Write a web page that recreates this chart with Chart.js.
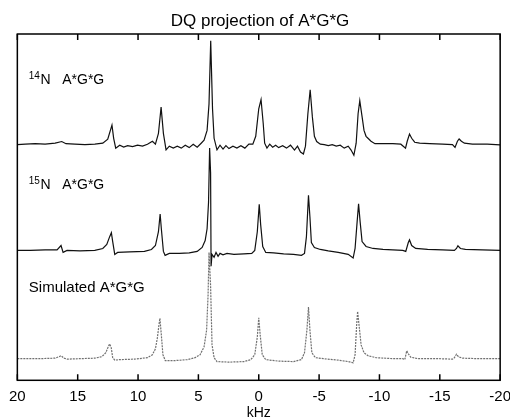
<!DOCTYPE html>
<html>
<head>
<meta charset="utf-8">
<script src="https://cdn.jsdelivr.net/npm/chart.js@4.4.1/dist/chart.umd.min.js"></script>
<style>
  html, body { margin: 0; padding: 0; background: #fff; overflow: hidden; }
  #wrap { width: 510px; height: 418px; overflow: hidden; }
</style>
</head>
<body>
<div id="wrap"><canvas id="dq" width="520" height="418"></canvas></div>
<script>
// eje x en kHz (invertido, 20 -> -20)
const kHzTicks = [20, 15, 10, 5, 0, -5, -10, -15, -20];

// 14N A*G*G (espectro experimental)
const n14Khz = [20.0, 19.34, 18.52, 17.70, 16.87, 16.32, 15.97, 15.23, 14.40, 13.58,
  12.92, 12.51, 12.16, 12.02, 11.85, 11.52, 11.19, 10.86, 10.45, 10.04,
  9.63, 9.22, 8.81, 8.56, 8.31, 8.09, 7.90, 7.68, 7.41, 7.08,
  6.75, 6.42, 6.09, 5.76, 5.43, 5.10, 4.77, 4.53, 4.28, 4.12,
  3.98, 3.83, 3.70, 3.46, 3.21, 2.96, 2.72, 2.47, 2.14, 1.81,
  1.48, 1.15, 0.82, 0.49, 0.25, 0, -0.19, -0.37, -0.49, -0.68,
  -0.91, -1.15, -1.40, -1.65, -1.98, -2.30, -2.63, -2.96, -3.21, -3.46,
  -3.70, -3.87, -4.07, -4.26, -4.44, -4.61, -4.80, -5.10, -5.43, -5.76,
  -6.09, -6.42, -6.75, -7.08, -7.41, -7.65, -7.88, -8.07, -8.23, -8.37,
  -8.56, -8.72, -8.89, -9.05, -9.30, -9.63, -10.29, -11.11, -11.77, -12.16,
  -12.30, -12.49, -12.67, -12.92, -13.33, -14.16, -15.23, -16.05, -16.26, -16.46,
  -16.60, -16.79, -17.04, -17.70, -18.93, -20.0];
const n14Int = [-0.05, 0, 0.05, 0, 0.1, 0.27, 0.05, 0, -0.05, 0,
  0.1, 0.5, 1.93, 0.6, -0.4, -0.1, -0.3, -0.15, -0.25, -0.1,
  -0.2, 0, 0.3, 0, 1.1, 3.77, 1.1, -0.57, -0.2, -0.4,
  -0.2, -0.4, -0.1, -0.35, 0, -0.3, 0.1, 0.4, 1.4, 4.1,
  10.5, 3.6, 0.6, -0.57, -0.1, -0.5, -0.15, -0.45, -0.2, -0.4,
  -0.15, -0.4, 0, 0, 0.8, 3.6, 4.53, 2.1, 0.1, -0.4,
  0, -0.3, -0.1, -0.35, -0.15, -0.4, -0.1, -0.6, -0.2, -0.8,
  -1.0, -0.2, 3.1, 5.53, 2.8, 0.8, 0.27, 0, -0.05, -0.15,
  -0.05, -0.2, -0.1, -0.4, -0.2, -0.6, -1.13, 0.1, 3.1, 4.43,
  2.8, 1.4, 0.8, 0.6, 0.3, 0.05, 0.05, 0.05, 0, -0.4,
  0.3, 1.03, 0.6, 0.2, 0.1, 0.05, 0, -0.05, -0.33, 0.3,
  0.53, 0.3, 0.1, 0, 0, -0.07];

// 15N A*G*G (espectro experimental)
const n15Khz = [20.0, 18.93, 17.70, 16.71, 16.38, 16.21, 15.88, 14.81, 13.58, 12.92,
  12.59, 12.35, 12.21, 12.10, 11.93, 11.69, 10.70, 9.47, 8.89, 8.56,
  8.31, 8.17, 8.07, 7.90, 7.76, 7.41, 6.58, 5.76, 5.10, 4.69,
  4.44, 4.28, 4.16, 4.07, 3.99, 3.95, 3.87, 3.70, 3.54, 3.37,
  3.21, 2.96, 2.63, 2.06, 1.23, 0.58, 0.33, 0.12, -0.04, -0.16,
  -0.33, -0.58, -1.23, -2.06, -2.88, -3.54, -3.79, -3.95, -4.12, -4.24,
  -4.36, -4.61, -5.10, -5.76, -6.58, -7.41, -7.82, -7.98, -8.15, -8.27,
  -8.40, -8.56, -8.89, -9.47, -10.29, -11.11, -11.93, -12.18, -12.39, -12.49,
  -12.67, -13.00, -13.99, -15.23, -16.21, -16.38, -16.50, -16.71, -17.12, -18.52,
  -20.0];
const n15Int = [0, 0, 0.05, 0.05, 0.5, -0.2, 0, -0.05, 0, 0.2,
  0.6, 1.4, 1.8, 0.9, -0.4, -0.2, -0.15, -0.1, 0.1, 0.5,
  1.9, 3.7, 2.2, -0.1, -0.5, -0.3, -0.3, -0.25, -0.1, 0.3,
  1.0, 2.2, 4.9, 10.4, 7.9, -1.6, -0.4, -0.7, -0.2, -0.6,
  -0.3, -0.45, -0.3, -0.4, -0.35, -0.3, 0, 1.9, 4.7, 2.6,
  0.4, -0.2, -0.25, -0.35, -0.4, -0.5, -0.3, 1.4, 5.6, 3.4,
  0.8, 0.3, 0.1, -0.05, -0.2, -0.4, -0.77, 0.2, 2.9, 4.73,
  2.9, 0.9, 0.4, 0.2, 0.1, 0.05, 0, -0.1, 0.8, 1.07,
  0.5, 0.2, 0.1, 0.05, 0, 0.2, 0.47, 0.2, 0.1, 0.05,
  0];

// A*G*G simulado
const simKhz = [20.0, 18.11, 16.87, 16.54, 16.38, 16.13, 15.88, 14.81, 13.58, 13.00,
  12.67, 12.47, 12.35, 12.22, 12.10, 11.93, 11.52, 10.29, 9.22, 8.81,
  8.56, 8.40, 8.27, 8.19, 8.07, 7.94, 7.74, 7.00, 5.93, 5.27,
  4.86, 4.53, 4.32, 4.20, 4.12, 3.99, 3.87, 3.70, 3.46, 2.47,
  1.23, 0.66, 0.33, 0.12, 0, -0.12, -0.29, -0.58, -1.65, -2.88,
  -3.54, -3.79, -3.99, -4.12, -4.24, -4.40, -4.69, -5.35, -6.58, -7.41,
  -7.82, -7.98, -8.11, -8.19, -8.31, -8.48, -8.72, -9.05, -9.71, -11.11,
  -11.93, -12.10, -12.26, -12.39, -12.59, -13.17, -14.81, -16.05, -16.21, -16.38,
  -16.54, -16.87, -18.11, -20.0];
const simInt = [0, 0, 0.05, 0.2, 0.3, 0.05, -0.05, 0, 0.05, 0.2,
  0.6, 1.2, 1.5, 1.1, 0.1, -0.15, -0.1, -0.05, 0.1, 0.4,
  1.0, 2.1, 3.4, 4.1, 2.4, 0.4, -0.2, -0.2, -0.1, 0.1,
  0.4, 1.2, 2.9, 6.4, 10.8, 7.4, 1.4, 0.1, -0.3, -0.35,
  -0.3, -0.1, 0.4, 2.2, 4.15, 2.4, 0.4, -0.1, -0.25, -0.3,
  -0.1, 0.6, 2.9, 5.25, 2.9, 0.6, 0.1, 0, -0.15, -0.3,
  -0.43, 0.4, 3.4, 4.8, 3.4, 1.4, 0.6, 0.3, 0.1, 0,
  0, -0.1, 0.8, 0.5, 0.15, 0, 0, -0.05, 0.1, 0.45,
  0.2, 0.05, 0, 0];

// desplazamiento vertical de cada espectro (apilados)
const stackOffsets = [24.0, 13.2, 2.2];
const traceSup = ['14', '15', ''];
const traceNames = ['N   A*G*G', 'N   A*G*G', 'Simulated A*G*G'];

function toPoints(khz, vals, off) {
    return khz.map((k, i) => ({ x: k, y: vals[i] + off }));
}

// marco con ticks hacia dentro + etiquetas de cada espectro
const framePlugin = {
    id: 'framePlugin',
    afterDraw(chart) {
        const { ctx, chartArea: a, scales: { x, y } } = chart;
        ctx.save();
        ctx.strokeStyle = '#000';
        ctx.lineWidth = 1.5;
        ctx.strokeRect(a.left, a.top, a.right - a.left, a.bottom - a.top);
        x.ticks.forEach(t => {
            const px = x.getPixelForValue(t.value);
            ctx.beginPath();
            ctx.moveTo(px, a.top);
            ctx.lineTo(px, a.top + 6);
            ctx.moveTo(px, a.bottom);
            ctx.lineTo(px, a.bottom - 6);
            ctx.stroke();
        });

        const labelY = [30.1, 19.4, 9.0];
        ctx.fillStyle = '#000';
        ctx.textBaseline = 'alphabetic';
        traceNames.forEach((name, i) => {
            let px = x.getPixelForValue(19.05);
            const py = y.getPixelForValue(labelY[i]);
            if (traceSup[i]) {
                ctx.font = '10px "Liberation Sans", Arial, sans-serif';
                ctx.fillText(traceSup[i], px, py - 5);
                px += ctx.measureText(traceSup[i]).width + 0.5;
                ctx.font = '14px "Liberation Sans", Arial, sans-serif';
            } else {
                ctx.font = '15px "Liberation Sans", Arial, sans-serif';
            }
            ctx.fillText(name, px, py);
        });
        ctx.restore();
    }
};

Chart.defaults.color = '#000';
Chart.defaults.font.family = '"Liberation Sans", Arial, sans-serif';

new Chart(document.getElementById('dq'), {
    type: 'line',
    data: {
        datasets: [
            {
                label: '14N A*G*G',
                data: toPoints(n14Khz, n14Int, stackOffsets[0]),
                borderColor: '#111',
                borderWidth: 1.2,
            },
            {
                label: '15N A*G*G',
                data: toPoints(n15Khz, n15Int, stackOffsets[1]),
                borderColor: '#111',
                borderWidth: 1.2,
            },
            {
                label: 'Simulated A*G*G',
                data: toPoints(simKhz, simInt, stackOffsets[2]),
                borderColor: '#707070',
                borderWidth: 1.2,
                borderDash: [2, 1],
            },
        ],
    },
    options: {
        responsive: false,
        animation: false,
        elements: { point: { radius: 0 }, line: { tension: 0 } },
        layout: { padding: { left: 17, right: 17, top: 0, bottom: -3.5 } },
        plugins: {
            legend: { display: false },
            tooltip: { enabled: false },
            title: {
                display: true,
                text: 'DQ projection of A*G*G',
                font: { size: 17, weight: 'normal' },
                padding: { top: 11, bottom: 2.6 },
            },
        },
        scales: {
            x: {
                type: 'linear',
                reverse: true,
                min: -20,
                max: 20,
                afterBuildTicks: s => { s.ticks = kHzTicks.map(v => ({ value: v })); },
                grid: { display: false, drawTicks: false },
                border: { display: false },
                ticks: { padding: 9, maxRotation: 0, font: { size: 15, lineHeight: 1 } },
                title: {
                    display: true,
                    text: 'kHz',
                    font: { size: 14, lineHeight: 0.8 },
                    padding: { top: -6, bottom: 3 },
                },
            },
            y: {
                display: false,
                min: 0,
                max: 35.2,
            },
        },
    },
    plugins: [framePlugin],
});
</script>
</body>
</html>
